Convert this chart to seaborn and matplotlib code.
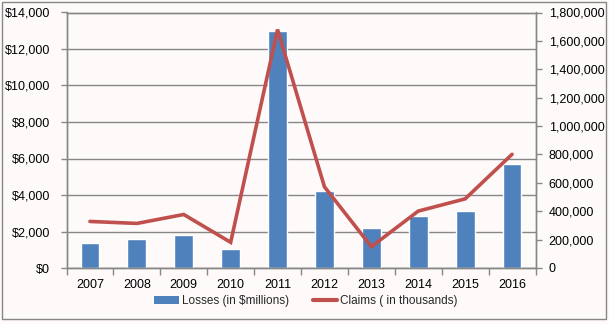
import numpy as np
import matplotlib
matplotlib.use("Agg")
import matplotlib.pyplot as plt
from matplotlib.patches import Rectangle
from matplotlib.ticker import FuncFormatter, MultipleLocator, FixedLocator
import seaborn as sns

years = ["2007", "2008", "2009", "2010", "2011", "2012", "2013", "2014", "2015", "2016"]
losses = [1350, 1600, 1800, 1050, 13000, 4200, 2200, 2850, 3150, 5700]
claims = [328000, 314000, 377000, 181000, 1680000, 572000, 150000, 401000, 487000, 801000]
loss_label = "Losses (in $millions)"
claims_label = "Claims ( in thousands)"

sns.set_style("white")
plt.rcParams["font.family"] = ["Liberation Sans", "DejaVu Sans"]

BG = "#FEFAF9"
GRID = "#878787"
BAR = "#4F81BD"
LINE = "#C0504D"

W, H = 609, 324
fig = plt.figure(figsize=(W / 100, H / 100), dpi=100, facecolor=BG)
ax = fig.add_axes([66.5 / W, 1 - 268 / H, (535.5 - 66.5) / W, (268 - 12.5) / H])
ax.set_facecolor(BG)

sns.barplot(x=years, y=losses, ax=ax, color=BAR, width=0.4, saturation=1,
            label=loss_label, zorder=2)

ax2 = ax.twinx()
sns.pointplot(x=years, y=claims, ax=ax2, color=LINE, markers="", errorbar=None,
              linewidth=2.6, label=claims_label)
for ln in ax2.lines:
    ln.set_linewidth(2.6)
    ln.set_solid_joinstyle("miter")

ax.set_xlim(-0.5, 9.5)
ax2.set_xlim(-0.5, 9.5)
ax.set_ylim(0, 14000)
ax2.set_ylim(0, 1800000)
ax.yaxis.set_major_locator(MultipleLocator(2000))
ax2.yaxis.set_major_locator(MultipleLocator(200000))
ax.yaxis.set_major_formatter(FuncFormatter(lambda v, p: f"${int(v):,}"))
ax2.yaxis.set_major_formatter(FuncFormatter(lambda v, p: f"{int(v):,}"))

FS = 9
ax.set_xticks(range(len(years)))
ax.set_xticklabels(years)
ax.xaxis.set_minor_locator(FixedLocator(np.arange(-0.5, len(years), 1.0)))
ax.tick_params(axis="x", which="major", length=0, pad=8, labelsize=FS, colors="black")
ax.tick_params(axis="x", which="minor", length=5, width=1, color=GRID, direction="out", bottom=True)
ax.tick_params(axis="y", which="major", length=4, width=1, color=GRID, direction="out",
               left=True, pad=8, labelsize=FS, labelcolor="black")
ax2.tick_params(axis="y", which="major", length=4, width=1, color=GRID, direction="out",
                right=True, pad=5.5, labelsize=FS, labelcolor="black")
ax2.tick_params(axis="x", length=0)
ax.set_xlabel("")
ax.set_ylabel("")
ax2.set_xlabel("")
ax2.set_ylabel("")

ax.set_axisbelow(True)
ax.yaxis.grid(True, color=GRID, linewidth=1)
for a in (ax, ax2):
    for s in a.spines.values():
        s.set_color(GRID)
        s.set_linewidth(1)
        s.set_visible(True)

if ax.get_legend():
    ax.get_legend().remove()
if ax2.get_legend():
    ax2.get_legend().remove()

h1 = Rectangle((0, 0), 1, 1, facecolor=BAR, edgecolor="none")
h2 = plt.Line2D([0], [0], color=LINE, linewidth=3)
fig.legend([h1, h2], [loss_label, claims_label], loc="center",
           bbox_to_anchor=(306 / W, 1 - 301 / H), ncol=2, frameon=False,
           prop={"size": 8.5}, handlelength=2.1, handleheight=0.6,
           handletextpad=0.25, columnspacing=2.0, borderaxespad=0, borderpad=0)

fig.patches.append(Rectangle((1.5 / W, 1 - 319 / H), (605.5 - 1.5) / W, (319 - 1.5) / H,
                             transform=fig.transFigure, fill=False,
                             edgecolor=GRID, linewidth=1))

fig.savefig("out.png", dpi=100, facecolor=BG)
